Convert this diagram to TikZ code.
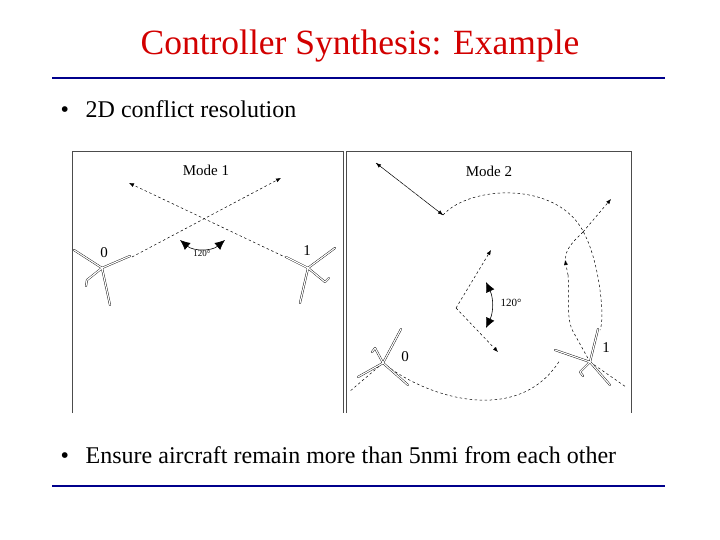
\documentclass[tikz,border=0pt]{standalone}
\usepackage{fontspec}
\setmainfont{Liberation Serif}
\usetikzlibrary{arrows.meta}
\begin{document}
\begin{tikzpicture}[x=1pt,y=-1pt,
  rule/.style={draw={rgb,255:red,0;green,0;blue,140},line width=2.5pt},
  panel/.style={draw=black!70,line width=0.6pt},
  path/.style={line width=0.5pt,dash pattern=on 2.5pt off 2.5pt},
  tip/.style={-{Latex[length=5pt,width=4pt]}},
  ang/.style={{Latex[length=10pt,width=9pt]}-{Latex[length=10pt,width=9pt]},line width=0.6pt},
  lab/.style={font=\fontsize{15}{17}\selectfont},
  arm/.style={line width=0.4pt,double=white,double distance=1.2pt,line cap=round}]
\useasboundingbox (0,0) rectangle (720,540);
\node[text={rgb,255:red,210;green,0;blue,0},font=\fontsize{35.5}{40}\selectfont] (title) at (360,46) {Controller Synthesis: Example};
\draw[rule] (52,78) coordinate (r1a) -- (665,78) coordinate (r1b);
\node[anchor=west,font=\fontsize{24}{26}\selectfont] (b1) at (57,109) {•\hspace{0.7em}2D conflict resolution};
\node[anchor=west,font=\fontsize{24}{26}\selectfont] (b2) at (57,455) {•\hspace{0.7em}Ensure aircraft remain more than 5nmi from each other};
\draw[rule] (52,486) coordinate (r2a) -- (665,486) coordinate (r2b);
% panels
\draw[panel] (72,413) -- (72,151) -- (343,151) -- (343,413);
\draw[panel] (346,413) -- (346,151) -- (631,151) -- (631,413);
% Mode 1
\node[lab] (m1) at (206,170) {Mode 1};
\coordinate (p0) at (102,268); \coordinate (p1) at (308,268);
\coordinate (a1) at (132,257); \coordinate (a2) at (281,178);
\coordinate (c1) at (287,258); \coordinate (c2) at (129,183);
\draw[path,tip] (a1) -- (a2);
\draw[path,tip] (c1) -- (c2);
\coordinate (g1) at (180,240); \coordinate (g2) at (225,240);
\draw[ang] (g1) to[bend right=40] (g2);
\node[font=\fontsize{9}{10}\selectfont] (l120a) at (202,254) {120°};
\node[lab] (n0) at (104,253) {0};
\node[lab] (n1) at (307,251) {1};
\draw[arm] (p0)--(130,256) (p0)--(74,250) (p0)--(110,305) (p0)--(87,280) (87,280)--(86,286);
\draw[arm] (p1)--(286,257) (p1)--(335,248) (p1)--(300,303) (p1)--(325,282) (325,282)--(329,278);
% Mode 2
\node[lab] (m2) at (489,171) {Mode 2};
\coordinate (q0) at (383,363); \coordinate (q1) at (590,362);
\coordinate (t1) at (376,163); \coordinate (t2) at (443,215);
\draw[path,tip] (t2) -- (t1);
\draw[path,tip] (t1) -- (t2);
\draw[path] (t2) .. controls (470,185) and (560,180) .. (585,235)
  .. controls (600,265) and (605,320) .. (600,330);
\draw[path] (q0) -- (349,392);
\draw[path] (q0) .. controls (430,400) and (520,425) .. (560,360);
\draw[path] (q1) -- (626,387);
\coordinate (u1) at (583,232); \coordinate (u2) at (611,199);
\draw[path,tip] (u1) -- (u2);
\draw[path] (u1) .. controls (575,240) and (563,250) .. (566,262);
\draw[path,tip] (568,275) -- (565,260);
\draw[path] (568,275) .. controls (570,300) and (565,320) .. (575,335) -- (q1);
\coordinate (v) at (456,308);
\draw[path,tip] (v) -- (491,250);
\draw[path,tip] (v) -- (498,352);
\draw[ang] (486,282) to[bend left=25] (486,328);
\node[font=\fontsize{11}{12}\selectfont] (l120b) at (511,303) {120°};
\node[lab] (o0) at (405,357) {0};
\node[lab] (o1) at (606,348) {1};
\draw[arm] (q0)--(401,329) (q0)--(358,377) (q0)--(408,385) (q0)--(375,348) (375,348)--(372,352);
\draw[arm] (q1)--(598,329) (q1)--(555,350) (q1)--(610,385) (q1)--(580,372) (580,372)--(583,376);
\end{tikzpicture}
\end{document}
